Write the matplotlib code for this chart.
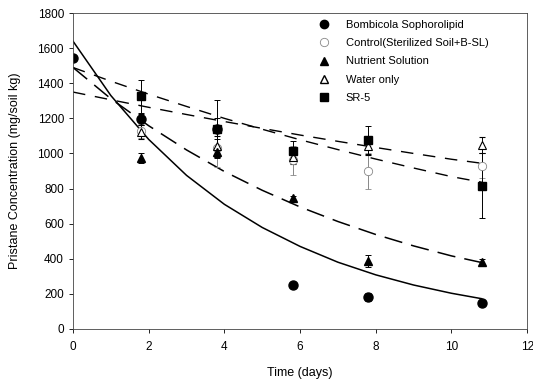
import matplotlib
matplotlib.use("Agg")
import matplotlib.pyplot as plt
from matplotlib.lines import Line2D

plt.rcParams['font.family'] = ['Liberation Sans', 'DejaVu Sans']

# ---- data ----
days = [1.8, 3.8, 5.8, 7.8, 10.8]

bomb_x = [0, 1.8, 3.8, 5.8, 7.8, 10.8]
bomb_y = [1545, 1195, 1138, 248, 182, 150]
bomb_err = [0, 30, 165, 10, 25, 15]

control_y = [1130, 1030, 960, 900, 930]
control_err = [40, 110, 80, 100, 70]

nutrient_y = [973, 1010, 745, 387, 381]
nutrient_err = [30, 30, 15, 35, 15]

water_y = [1120, 1040, 980, 1040, 1047]
water_err = [40, 60, 40, 50, 45]

sr5_y = [1326, 1140, 1013, 1075, 815]
sr5_err = [95, 60, 60, 80, 185]

# fitted trend curves
curve_x = [0, 1, 2, 3, 4, 5, 6, 7, 8, 9, 10, 10.8]
bomb_fit = [1640, 1330, 1080, 875, 710, 578, 470, 380, 308, 250, 203, 172]
nutrient_fit = [1490, 1312, 1158, 1020, 897, 790, 695, 612, 538, 473, 416, 378]
sr5_fit = [1490, 1412, 1338, 1268, 1200, 1138, 1078, 1022, 968, 917, 868, 836]
water_fit = [1350, 1306, 1263, 1222, 1182, 1143, 1105, 1069, 1034, 1000, 967, 944]

fig = plt.figure(figsize=(5.33, 3.86), dpi=100)
ax = fig.add_axes([0.137, 0.148, 0.852, 0.818])

# curves
ax.plot(curve_x, bomb_fit, color='black', lw=1.1, ls='-')
ax.plot(curve_x, nutrient_fit, color='black', lw=1.1, ls=(0, (12, 6)))
ax.plot(curve_x, sr5_fit, color='black', lw=1.0, ls=(0, (9, 7)))
ax.plot(curve_x, water_fit, color='black', lw=1.0, ls=(0, (9, 7)))

ekw = dict(ecolor='black', elinewidth=0.7, capsize=2.5, capthick=0.7, ls='none')

ax.errorbar(days, control_y, yerr=control_err, marker='o', ms=6, mfc='white',
            mec='#888888', mew=0.6, **dict(ekw, ecolor='#888888'))
ax.errorbar(days, water_y, yerr=water_err, marker='^', ms=6, mfc='white',
            mec='black', mew=0.8, **ekw)
ax.errorbar(days, nutrient_y, yerr=nutrient_err, marker='^', ms=6, mfc='black',
            mec='black', **ekw)
ax.errorbar(days, sr5_y, yerr=sr5_err, marker='s', ms=5.5, mfc='black',
            mec='black', **ekw)
ax.errorbar(bomb_x, bomb_y, yerr=bomb_err, marker='o', ms=6.5, mfc='black',
            mec='black', **ekw)

ax.set_xlim(0, 12)
ax.set_ylim(0, 1800)
ax.set_xticks(range(0, 13, 2))
ax.set_yticks(range(0, 1801, 200))
ax.tick_params(axis='both', labelsize=8.5, length=3, width=0.6, direction='out')
ax.tick_params(axis='x', pad=6)
for s in ax.spines.values():
    s.set_linewidth(0.6)
    s.set_color('#444444')

ax.set_xlabel('Time (days)', fontsize=9, labelpad=10)
ax.set_ylabel('Pristane Concentration (mg/soil kg)', fontsize=9, labelpad=12)

handles = [
    Line2D([], [], ls='none', marker='o', ms=6, mfc='black', mec='black'),
    Line2D([], [], ls='none', marker='o', ms=6, mfc='white', mec='#888888', mew=0.6),
    Line2D([], [], ls='none', marker='^', ms=6, mfc='black', mec='black'),
    Line2D([], [], ls='none', marker='^', ms=6, mfc='white', mec='black'),
    Line2D([], [], ls='none', marker='s', ms=5.5, mfc='black', mec='black'),
]
labels = ['Bombicola Sophorolipid', 'Control(Sterilized Soil+B-SL)',
          'Nutrient Solution', 'Water only', 'SR-5']
ax.legend(handles, labels, loc='upper left', bbox_to_anchor=(0.52, 1.0),
          frameon=False, fontsize=8, handlelength=1.5, handletextpad=1.2,
          labelspacing=0.75, borderaxespad=0.2)

fig.savefig('out.png', dpi=100)
